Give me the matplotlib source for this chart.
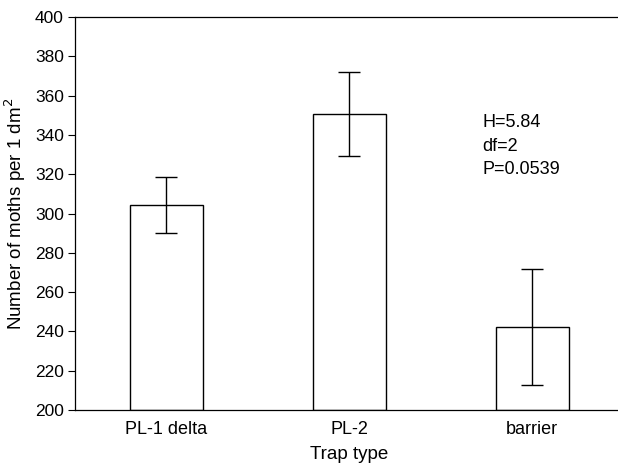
import matplotlib
matplotlib.use("Agg")
import matplotlib.pyplot as plt

plt.rcParams['font.family'] = ['Liberation Sans', 'DejaVu Sans']

categories = ["PL-1 delta", "PL-2", "barrier"]
means = [304.4, 350.6, 242.2]
err_low = [290.3, 329.2, 212.5]
err_high = [318.5, 371.8, 271.9]
stats_text = ["H=5.84", "df=2", "P=0.0539"]

W, H = 618, 470
fig = plt.figure(figsize=(W/100, H/100), dpi=100)
left, right, top, bottom = 75, 623.5, 17, 410
ax = fig.add_axes([left/W, (H-bottom)/H, (right-left)/W, (bottom-top)/H])

x = list(range(len(categories)))
ax.bar(x, [m - 200 for m in means], bottom=200, width=0.4, color='white',
       edgecolor='black', linewidth=1.0, zorder=2)
yerr = [[m - lo for m, lo in zip(means, err_low)],
        [hi - m for m, hi in zip(means, err_high)]]
ax.errorbar(x, means, yerr=yerr, fmt='none', ecolor='black', elinewidth=1.0,
            capsize=8.2, capthick=1.0, zorder=3)

ax.set_xlim(-0.5, 2.5)
ax.set_ylim(200, 400)
ax.set_yticks(range(200, 401, 20))
ax.set_xticks(x)
ax.set_xticklabels(categories)
ax.tick_params(axis='y', direction='out', length=5, width=0.8, labelsize=12.5, pad=3)
ax.tick_params(axis='x', direction='in', length=3, width=0.8, labelsize=13, pad=8)
for s in ['left', 'bottom', 'top']:
    ax.spines[s].set_linewidth(0.9)
ax.spines['right'].set_visible(False)

ax.set_ylabel("Number of moths per 1 dm$^2$", fontsize=13.5, labelpad=5)
ax.set_xlabel("Trap type", fontsize=13.5, labelpad=6)

ax.text(1.727, 350.5, "\n".join(stats_text), fontsize=13, va='top', ha='left',
        linespacing=1.5)

fig.savefig("out.png", dpi=100)
